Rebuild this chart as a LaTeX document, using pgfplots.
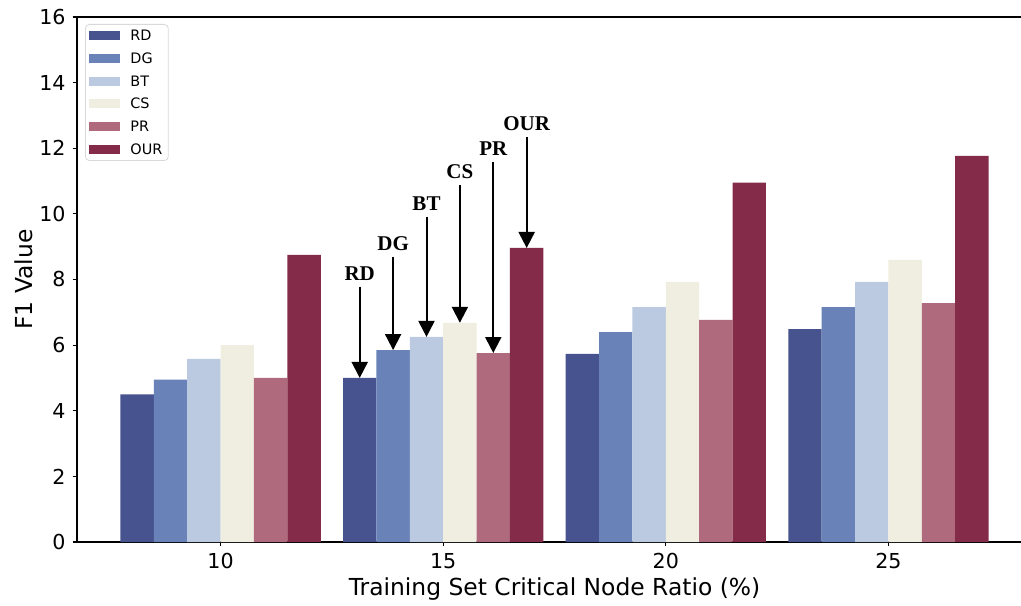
\documentclass[border=0pt]{standalone}
\usepackage{fontspec}
\setmainfont{DejaVu Sans}
\newfontfamily\annfont{Liberation Serif}
\usepackage{pgfplots}
\pgfplotsset{compat=1.18}
\usetikzlibrary{arrows.meta}
\definecolor{cRD}{RGB}{70,83,142}
\definecolor{cDG}{RGB}{105,131,185}
\definecolor{cBT}{RGB}{187,202,225}
\definecolor{cCS}{RGB}{240,238,224}
\definecolor{cPR}{RGB}{175,106,126}
\definecolor{cOUR}{RGB}{132,43,73}
\pgfplotsset{mylegend/.style={legend image code/.code={\fill[##1, sharp corners] (0pt,-2.25pt) rectangle (15.5pt,2.25pt);}}}
\begin{document}
\begin{tikzpicture}
\begin{axis}[
  scale only axis, width=477.5pt, height=262.5pt,
  xmin=-0.645, xmax=3.645, ymin=0, ymax=16,
  xtick={0,1,2,3}, xticklabels={10,15,20,25},
  ytick={0,2,...,16},
  xtick pos=left, ytick pos=left,
  tick align=outside, major tick length=2.2pt,
  tick style={black, line width=0.6pt},
  axis line style={line width=0.6pt},
  ybar=0pt, bar width=0.15,
  tick label style={font=\fontsize{10.3}{12}\selectfont},
  /pgf/number format/assume math mode=true,
  xlabel={Training Set Critical Node Ratio (\%)},
  ylabel={F1 Value},
  label style={font=\fontsize{11.7}{14}\selectfont},
  xlabel style={at={(axis description cs:0.5,-0.068)}, anchor=north, inner sep=0pt},
  ylabel style={at={(axis description cs:-0.046,0.5)}, anchor=south, inner sep=0pt},
  legend cell align=left,
  legend style={at={(axis description cs:0.0084,0.9867)}, anchor=north west,
    draw=black!15, rounded corners=2pt, font=\fontsize{7.2}{8}\selectfont,
    inner xsep=2pt, inner ysep=2pt, row sep=4.3pt,
    nodes={inner sep=1pt, text height=5.1pt, text depth=0pt},
    /tikz/every odd column/.append style={column sep=4pt}},
  clip=false,
]
\addplot[fill=cRD, draw=none, bar shift=-0.375, mylegend] coordinates {(0,4.5) (1,5.0) (2,5.73) (3,6.49)};
\addplot[fill=cDG, draw=none, bar shift=-0.225, mylegend] coordinates {(0,4.95) (1,5.85) (2,6.4) (3,7.16)};
\addplot[fill=cBT, draw=none, bar shift=-0.075, mylegend] coordinates {(0,5.58) (1,6.25) (2,7.16) (3,7.93)};
\addplot[fill=cCS, draw=none, bar shift=0.075, mylegend] coordinates {(0,6.0) (1,6.68) (2,7.93) (3,8.6)};
\addplot[fill=cPR, draw=none, bar shift=0.225, mylegend] coordinates {(0,5.0) (1,5.76) (2,6.77) (3,7.28)};
\addplot[fill=cOUR, draw=none, bar shift=0.375, mylegend] coordinates {(0,8.75) (1,8.96) (2,10.95) (3,11.77)};
\legend{RD,DG,BT,CS,PR,OUR}
\begin{scope}[every node/.style={inner sep=0pt, anchor=south, yshift=2.5pt, font=\annfont\bfseries\fontsize{10.5}{12}\selectfont}]
\draw[line width=1pt, -{Triangle[width=8pt,length=8pt]}] (axis cs:0.625,7.78) node{RD} -- (axis cs:0.625,5.0);
\draw[line width=1pt, -{Triangle[width=8pt,length=8pt]}] (axis cs:0.775,8.70) node{DG} -- (axis cs:0.775,5.85);
\draw[line width=1pt, -{Triangle[width=8pt,length=8pt]}] (axis cs:0.925,9.91) node{BT} -- (axis cs:0.925,6.25);
\draw[line width=1pt, -{Triangle[width=8pt,length=8pt]}] (axis cs:1.075,10.88) node{CS} -- (axis cs:1.075,6.68);
\draw[line width=1pt, -{Triangle[width=8pt,length=8pt]}] (axis cs:1.225,11.59) node{PR} -- (axis cs:1.225,5.76);
\draw[line width=1pt, -{Triangle[width=8pt,length=8pt]}] (axis cs:1.375,12.35) node{OUR} -- (axis cs:1.375,8.96);
\end{scope}
\coordinate (SW) at (rel axis cs:0,0);
\coordinate (NE) at (rel axis cs:1,1);
\end{axis}
\pgfresetboundingbox
\path[use as bounding box] ([xshift=-38.5pt,yshift=-31.5pt]SW) rectangle ([xshift=-5.5pt,yshift=8.5pt]NE);
\end{tikzpicture}
\end{document}
